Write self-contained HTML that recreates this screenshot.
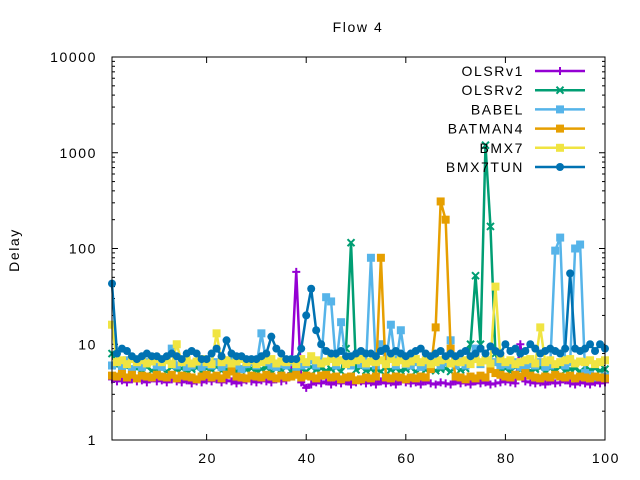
<!DOCTYPE html>
<html><head><meta charset="utf-8"><style>
html,body{margin:0;padding:0;background:#fff;}
svg{display:block;font-family:"Liberation Sans",sans-serif;}
text{letter-spacing:1.6px;}
</style></head><body>
<svg id="chart" width="640" height="480" viewBox="0 0 640 480" xmlns="http://www.w3.org/2000/svg">
<text x="358" y="32" font-size="14" text-anchor="middle">Flow 4</text>
<text x="0" y="0" font-size="14" text-anchor="middle" transform="translate(19,250) rotate(-90)">Delay</text>
<g id="axes"></g>
<g id="series"></g>
<g id="legend"></g>
<rect x="112" y="57" width="493" height="383" fill="none" stroke="#000" stroke-width="1"/>
</svg>
<script>
const xTicks=[20,40,60,80,100];
const yTicks=[1,10,100,1000,10000];
const yTickLabels=["1","10","100","1000","10000"];
const seriesNames=["OLSRv1","OLSRv2","BABEL","BATMAN4","BMX7","BMX7TUN"];
const olsrv1=[4.3,4.1,4.2,4.0,4.3,4.1,4.2,4.0,4.4,4.1,4.2,4.0,4.3,4.1,4.0,4.2,3.9,4.1,4.0,4.2,4.1,4.3,4.0,4.2,4.1,3.9,4.0,4.2,4.1,4.0,4.2,4.1,4.0,4.3,4.1,4.2,5.0,57,4.0,3.5,3.8,4.0,3.9,4.1,3.8,4.0,3.9,4.1,3.8,4.0,4.1,3.9,4.0,3.8,4.1,3.9,4.0,3.8,4.1,4.0,3.9,4.0,3.8,4.1,3.9,3.8,4.0,3.9,3.8,4.1,3.9,4.0,3.8,4.1,3.9,4.0,3.8,3.9,4.0,4.1,4.0,3.9,10,4.1,4.0,3.9,4.0,3.8,4.1,3.9,4.0,4.2,3.9,3.8,4.0,3.9,3.8,4.0,3.9,4.0];
const olsrv2=[8,6,5.5,5.8,5.2,5.6,5.4,5.8,5.3,5.5,5.6,5.2,5.8,5.4,5.6,5.3,5.5,5.7,5.2,5.6,5.4,5.8,5.3,5.5,5.6,5.2,5.8,5.4,5.6,5.3,5.5,5.7,5.2,5.6,5.4,5.8,5.3,5.5,5.6,5.2,5.8,5.4,5.6,5.3,5.5,5.7,5.2,9,115,5.4,5.8,5.3,5.5,5.6,5.2,5.8,5.4,5.6,5.3,5.5,5.7,5.2,5.6,5.4,5.8,5.3,5.5,5.6,5.2,5.8,5.4,5.6,10,52,10,1200,170,8,5.5,5.6,5.2,5.8,5.4,5.6,5.3,5.5,5.7,5.2,5.6,5.4,5.8,5.3,5.5,5.6,5.2,5.8,5.4,5.6,5.3,5.5];
const babel=[6,6.5,5.8,6.8,5.5,6.2,5.8,6.5,7,6,5.8,7,9,6,6.5,5.8,6,6.5,5.8,6.2,6,6.5,5.8,6.2,6.8,6,5.5,6.2,6.5,6,13,6.5,6,5.8,6.2,6,6.5,5.8,6,6.2,6.8,6,6.5,31,28,6,17,6.5,6,7,6.2,6,80,6,10,6.5,16,6,14,6.2,6,6.5,5.8,6,6.2,6.8,6,6.5,11,6,6.5,6,7,9,6.2,6.8,6,6.5,6,6.2,6,6.5,5.8,6,6.2,6,6.5,5.8,6,95,130,6,6.5,100,110,5,4.8,4.5,4.5,4.6];
const batman4=[4.7,4.6,4.9,4.5,4.8,4.4,4.7,4.6,4.5,4.8,4.6,4.5,4.8,4.4,4.7,4.6,4.5,4.3,4.6,4.8,4.5,4.7,4.4,4.8,5.2,4.6,4.5,4.4,4.7,4.6,4.5,4.8,4.6,4.4,4.7,4.5,4.6,4.8,4.5,4.7,4.6,4.4,4.7,4.8,4.5,4.6,4.3,4.5,4.6,4.2,4.3,4.5,4.4,4.6,80,4.5,4.4,4.6,4.5,4.3,4.5,4.4,4.6,4.5,5.5,15,310,200,9,4.6,4.5,4.3,4.6,4.4,4.7,4.5,5.5,5,4.8,4.6,4.5,4.8,4.6,5,4.7,4.5,4.4,4.6,4.5,4.8,4.6,4.5,4.7,4.4,4.6,4.5,4.4,4.6,4.5,4.4];
const bmx7=[16,6.5,6.8,6.2,7,6.5,6.8,6.3,6.6,7,6.5,6.8,6.2,10,6.5,6.8,6.3,6.6,7,6.5,6.2,13,6.5,6.8,6.3,6.6,7,6.5,6.8,6.2,6.5,6.8,7,6.3,6.6,6.5,6.8,6.2,7,6.5,7.5,6.8,6.3,6.6,7,6.5,6.8,6.2,6.5,6.8,7,6.3,6.6,6.5,6.8,6.2,7,6.5,6.8,6.3,6.6,7,6.5,6.8,6.2,6.5,6.8,7,6.3,6.6,6.5,6.8,6.2,7,6.5,6.8,6.3,40,7,6.5,6.8,6.2,6.5,6.8,7,6.3,15,6.5,6.8,6.2,6.5,6.8,7,6.3,6.6,6.5,6.8,6.2,6.5,6.8];
const bmx7tun=[43,8,9,8.5,7.5,7,7.5,8,7.5,7.5,7,7.5,8,7.5,7,8,8.5,8,7,7,8,9,7.5,11,8,7.5,7.5,7,7,7,7.5,8,12,9,8,7,7,7,9,20,38,14,10,8.5,8,8,8.5,7.5,7.5,8,8.5,8,8,7.5,8.5,9,8,8.5,8,7.5,8,8.5,9,8,7.5,8,8.5,7.5,8,7.5,8,8.5,7.5,8,9,8,9.5,8.5,8,10,8.5,9,8,8.5,10,9,8,8.5,9,8.5,8,9,55,9,8.5,9,10,8.5,10,9];
const allSeries=[olsrv1,olsrv2,babel,batman4,bmx7,bmx7tun];
const colors=["#9400d3","#009e73","#56b4e9","#e69f00","#f0e442","#0072b2"];
const markers=["plus","cross","square","square","square","circle"];

const NS="http://www.w3.org/2000/svg";
const L=112,R=605,T=57,B=440;
function xs(x){return L+(x-1)*(R-L)/99;}
function ys(v){return B-(Math.log10(v)-0)*(B-T)/4;}
function mk(tag,attrs,parent){const e=document.createElementNS(NS,tag);for(const k in attrs)e.setAttribute(k,attrs[k]);parent.appendChild(e);return e;}

const axes=document.getElementById('axes');
xTicks.forEach(function(t){
  const x=xs(t);
  const g=mk('g',{},axes);
  
  
  mk('line',{x1:x,y1:B,x2:x,y2:B-6,stroke:'#000'},g);
  mk('line',{x1:x,y1:T,x2:x,y2:T+6,stroke:'#000'},g);
  const tx=mk('text',{x:x+1,y:B+23,'font-size':14,'text-anchor':'middle'},g);
  tx.textContent=String(t);
});
yTicks.forEach(function(t,i){
  const y=ys(t);
  const g=mk('g',{},axes);
  
  
  mk('line',{x1:L,y1:y,x2:L+6,y2:y,stroke:'#000'},g);
  mk('line',{x1:R,y1:y,x2:R-6,y2:y,stroke:'#000'},g);
  const tx=mk('text',{x:L-15,y:y+5,'font-size':14,'text-anchor':'end'},g);
  tx.textContent=yTickLabels[i];
  if(i<yTicks.length-1){
    for(let m=2;m<10;m++){
      const ym=ys(t*m);
      mk('line',{x1:L,y1:ym,x2:L+3,y2:ym,stroke:'#000'},g);
      mk('line',{x1:R,y1:ym,x2:R-3,y2:ym,stroke:'#000'},g);
    }
  }
});

function marker(type,x,y,color,parent){
  if(type==='plus'){
    mk('path',{d:`M${x-4},${y}H${x+4}M${x},${y-4}V${y+4}`,stroke:color,'stroke-width':2,fill:'none'},parent);
  }else if(type==='cross'){
    mk('path',{d:`M${x-3.5},${y-3.5}L${x+3.5},${y+3.5}M${x-3.5},${y+3.5}L${x+3.5},${y-3.5}`,stroke:color,'stroke-width':2,fill:'none'},parent);
  }else if(type==='square'){
    mk('rect',{x:x-4,y:y-4,width:8,height:8,fill:color},parent);
  }else{
    mk('circle',{cx:x,cy:y,r:4,fill:color},parent);
  }
}

const sg=document.getElementById('series');
allSeries.forEach(function(data,si){
  const g=mk('g',{},sg);
  
  
  const pts=data.map(function(v,i){return xs(i+1).toFixed(2)+','+ys(v).toFixed(2);}).join(' ');
  mk('polyline',{points:pts,fill:'none',stroke:colors[si],'stroke-width':2.5,'stroke-linejoin':'round'},g);
  data.forEach(function(v,i){marker(markers[si],xs(i+1),ys(v),colors[si],g);});
});

const lg=document.getElementById('legend');
seriesNames.forEach(function(n,i){
  const y=71+i*19.2;
  const g=mk('g',{},lg);
  
  
  const tx=mk('text',{x:524,y:y+5,'font-size':14,'text-anchor':'end'},g);
  tx.textContent=n;
  mk('line',{x1:535,y1:y,x2:585,y2:y,stroke:colors[i],'stroke-width':2.5},g);
  marker(markers[i],560,y,colors[i],g);
});
</script>
</body></html>
